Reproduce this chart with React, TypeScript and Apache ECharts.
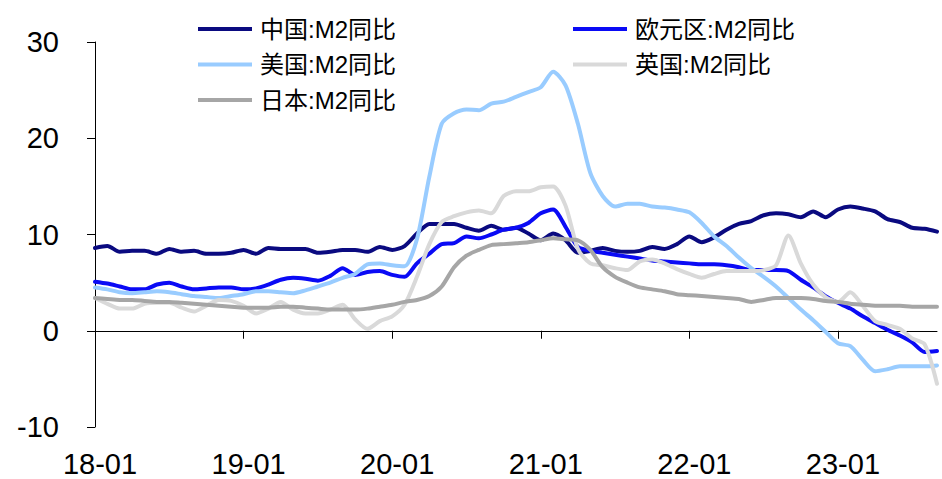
import React, { useEffect, useRef } from "react";
import * as echarts from "echarts";

// Monthly categories, 2018-01 .. 2023-09
const months: string[] = [
  "18-01", "18-02", "18-03", "18-04", "18-05", "18-06", "18-07", "18-08", "18-09", "18-10", "18-11", "18-12",
  "19-01", "19-02", "19-03", "19-04", "19-05", "19-06", "19-07", "19-08", "19-09", "19-10", "19-11", "19-12",
  "20-01", "20-02", "20-03", "20-04", "20-05", "20-06", "20-07", "20-08", "20-09", "20-10", "20-11", "20-12",
  "21-01", "21-02", "21-03", "21-04", "21-05", "21-06", "21-07", "21-08", "21-09", "21-10", "21-11", "21-12",
  "22-01", "22-02", "22-03", "22-04", "22-05", "22-06", "22-07", "22-08", "22-09", "22-10", "22-11", "22-12",
  "23-01", "23-02", "23-03", "23-04", "23-05", "23-06", "23-07", "23-08", "23-09",
];

// M2 year-on-year growth, %
const china: number[] = [
  8.6, 8.8, 8.2, 8.3, 8.3, 8.0, 8.5, 8.2, 8.3, 8.0, 8.0, 8.1,
  8.4, 8.0, 8.6, 8.5, 8.5, 8.5, 8.1, 8.2, 8.4, 8.4, 8.2, 8.7,
  8.4, 8.8, 10.1, 11.1, 11.1, 11.1, 10.7, 10.4, 10.9, 10.5, 10.7, 10.1,
  9.4, 10.1, 9.4, 8.1, 8.3, 8.6, 8.3, 8.2, 8.3, 8.7, 8.5, 9.0,
  9.8, 9.2, 9.7, 10.5, 11.1, 11.4, 12.0, 12.2, 12.1, 11.8, 12.4, 11.8,
  12.6, 12.9, 12.7, 12.4, 11.6, 11.3, 10.7, 10.6, 10.3,
];
const euro: number[] = [
  5.1, 4.9, 4.6, 4.3, 4.3, 4.8, 5.0, 4.6, 4.3, 4.4, 4.5, 4.5,
  4.3, 4.4, 4.8, 5.3, 5.5, 5.4, 5.2, 5.7, 6.5, 5.8, 6.1, 6.2,
  5.8, 5.6, 7.0, 8.0, 9.0, 9.1, 9.8, 9.6, 10.0, 10.5, 10.7, 11.2,
  12.2, 12.6, 10.8, 8.7, 8.3, 8.1, 7.9, 7.7, 7.5, 7.3, 7.2, 7.1,
  7.0, 6.9, 6.9, 6.8, 6.6, 6.3, 6.3, 6.3, 6.2, 5.3, 4.5, 3.6,
  2.9, 2.3, 1.5, 0.8, 0.1, -0.5, -1.2, -2.2, -2.1,
];
const usa: number[] = [
  4.5, 4.3, 4.0, 3.9, 4.0, 4.1, 4.0, 3.8, 3.6, 3.5, 3.4, 3.6,
  3.8, 4.1, 4.1, 4.0, 3.9, 4.2, 4.6, 5.0, 5.5, 5.9, 6.9, 7.0,
  6.8, 6.7, 9.5, 16.0, 21.5, 22.6, 23.0, 22.9, 23.6, 23.8, 24.3, 24.8,
  25.3, 26.9, 25.5, 21.5, 16.4, 14.0, 12.9, 13.2, 13.2, 12.9, 12.8, 12.6,
  12.3, 11.2, 9.8, 8.8, 7.6, 6.5, 5.6, 4.6, 3.4, 2.2, 1.1, -0.1,
  -1.3, -1.6, -3.0, -4.2, -4.0, -3.7, -3.7, -3.7, -3.6,
];
const uk: number[] = [
  3.4, 2.8, 2.3, 2.3, 2.8, 2.9, 2.9, 2.4, 2.0, 2.6, 3.2, 3.1,
  2.6, 1.8, 2.3, 3.0, 2.2, 1.8, 1.8, 2.2, 2.7, 1.2, 0.2, 1.0,
  1.5, 2.7, 5.6, 9.0, 11.3, 11.9, 12.3, 12.5, 12.2, 14.0, 14.5, 14.5,
  14.9, 15.0, 13.0, 8.5, 7.0, 6.8, 6.5, 6.3, 7.2, 7.4, 7.0, 6.4,
  5.9, 5.5, 5.9, 6.2, 6.2, 6.2, 6.3, 6.8, 9.9, 7.0, 4.8, 3.5,
  3.0, 4.0, 2.6, 1.0, 0.6, 0.2, -0.8, -1.4, -5.5,
];
const japan: number[] = [
  3.4, 3.3, 3.2, 3.2, 3.1, 3.0, 3.0, 2.9, 2.8, 2.7, 2.6, 2.5,
  2.4, 2.4, 2.4, 2.5, 2.5, 2.4, 2.3, 2.2, 2.2, 2.2, 2.3, 2.5,
  2.7, 3.0, 3.2, 3.6, 4.6, 6.6, 7.8, 8.4, 8.9, 9.0, 9.1, 9.2,
  9.4, 9.6, 9.5, 9.4, 8.4, 6.6, 5.6, 5.0, 4.5, 4.3, 4.1, 3.8,
  3.7, 3.6, 3.5, 3.4, 3.3, 3.0, 3.2, 3.4, 3.4, 3.4, 3.3, 3.1,
  3.0, 2.8, 2.7, 2.6, 2.6, 2.6, 2.5, 2.5, 2.5,
];

const seriesNames = ["中国:M2同比", "欧元区:M2同比", "美国:M2同比", "英国:M2同比", "日本:M2同比"];
const seriesColors = ["#0A0A80", "#0A0AF5", "#99CCFF", "#D9D9D9", "#A6A6A6"];
const seriesData = [china, euro, usa, uk, japan];

const yTicks = { min: -10, max: 30, interval: 10 };

const FONT = '"Liberation Sans", Arial, "Noto Sans CJK SC", sans-serif';

export default function App() {
  const ref = useRef<HTMLDivElement>(null);

  useEffect(() => {
    if (!ref.current) return;
    const chart = echarts.init(ref.current, null, { renderer: "svg" });

    const legendBase = {
      orient: "vertical" as const,
      icon: "rect",
      itemWidth: 54,
      itemHeight: 4,
      itemGap: 5.5,
      top: 9,
      textStyle: {
        fontFamily: FONT,
        fontSize: 24,
        color: "#000",
        lineHeight: 30,
        padding: [0, 0, 0, 3],
      },
    };

    chart.setOption({
      animation: false,
      backgroundColor: "#fff",
      textStyle: { fontFamily: FONT },
      grid: { left: 95, right: 5, top: 42, height: 385, containLabel: false },
      legend: [
        { ...legendBase, left: 193, data: [seriesNames[0], seriesNames[2], seriesNames[4]] },
        { ...legendBase, left: 568, data: [seriesNames[1], seriesNames[3]] },
      ],
      xAxis: [
        {
          type: "category",
          data: months,
          boundaryGap: false,
          axisLine: { onZero: true, lineStyle: { color: "#000", width: 1 } },
          axisTick: { show: true, interval: 11, length: 8, lineStyle: { color: "#000" } },
          axisLabel: { show: false },
          splitLine: { show: false },
        },
        {
          type: "category",
          data: months,
          boundaryGap: false,
          position: "bottom",
          axisLine: { show: false, onZero: false },
          axisTick: { show: false },
          axisLabel: {
            interval: 11,
            fontSize: 29,
            color: "#000",
            fontFamily: FONT,
            margin: 22,
            padding: [0, 0, 0, 10],
          },
          splitLine: { show: false },
        },
      ],
      yAxis: {
        type: "value",
        min: yTicks.min,
        max: yTicks.max,
        interval: yTicks.interval,
        axisLine: { show: true, lineStyle: { color: "#000", width: 1 } },
        axisTick: { show: true, length: 8, lineStyle: { color: "#000" } },
        axisLabel: { fontSize: 29, color: "#000", fontFamily: FONT, margin: 36 },
        splitLine: { show: false },
      },
      series: seriesNames.map((name, i) => ({
        name,
        type: "line",
        xAxisIndex: 0,
        data: seriesData[i],
        showSymbol: false,
        symbol: "none",
        smooth: 0.25,
        color: seriesColors[i],
        lineStyle: { width: 4, color: seriesColors[i], cap: "round", join: "round" },
        z: 2 + i,
      })),
    });

    return () => chart.dispose();
  }, []);

  return (
    <div
      ref={ref}
      style={{ position: "fixed", left: 0, top: 0, width: 942, height: 479 }}
    />
  );
}
